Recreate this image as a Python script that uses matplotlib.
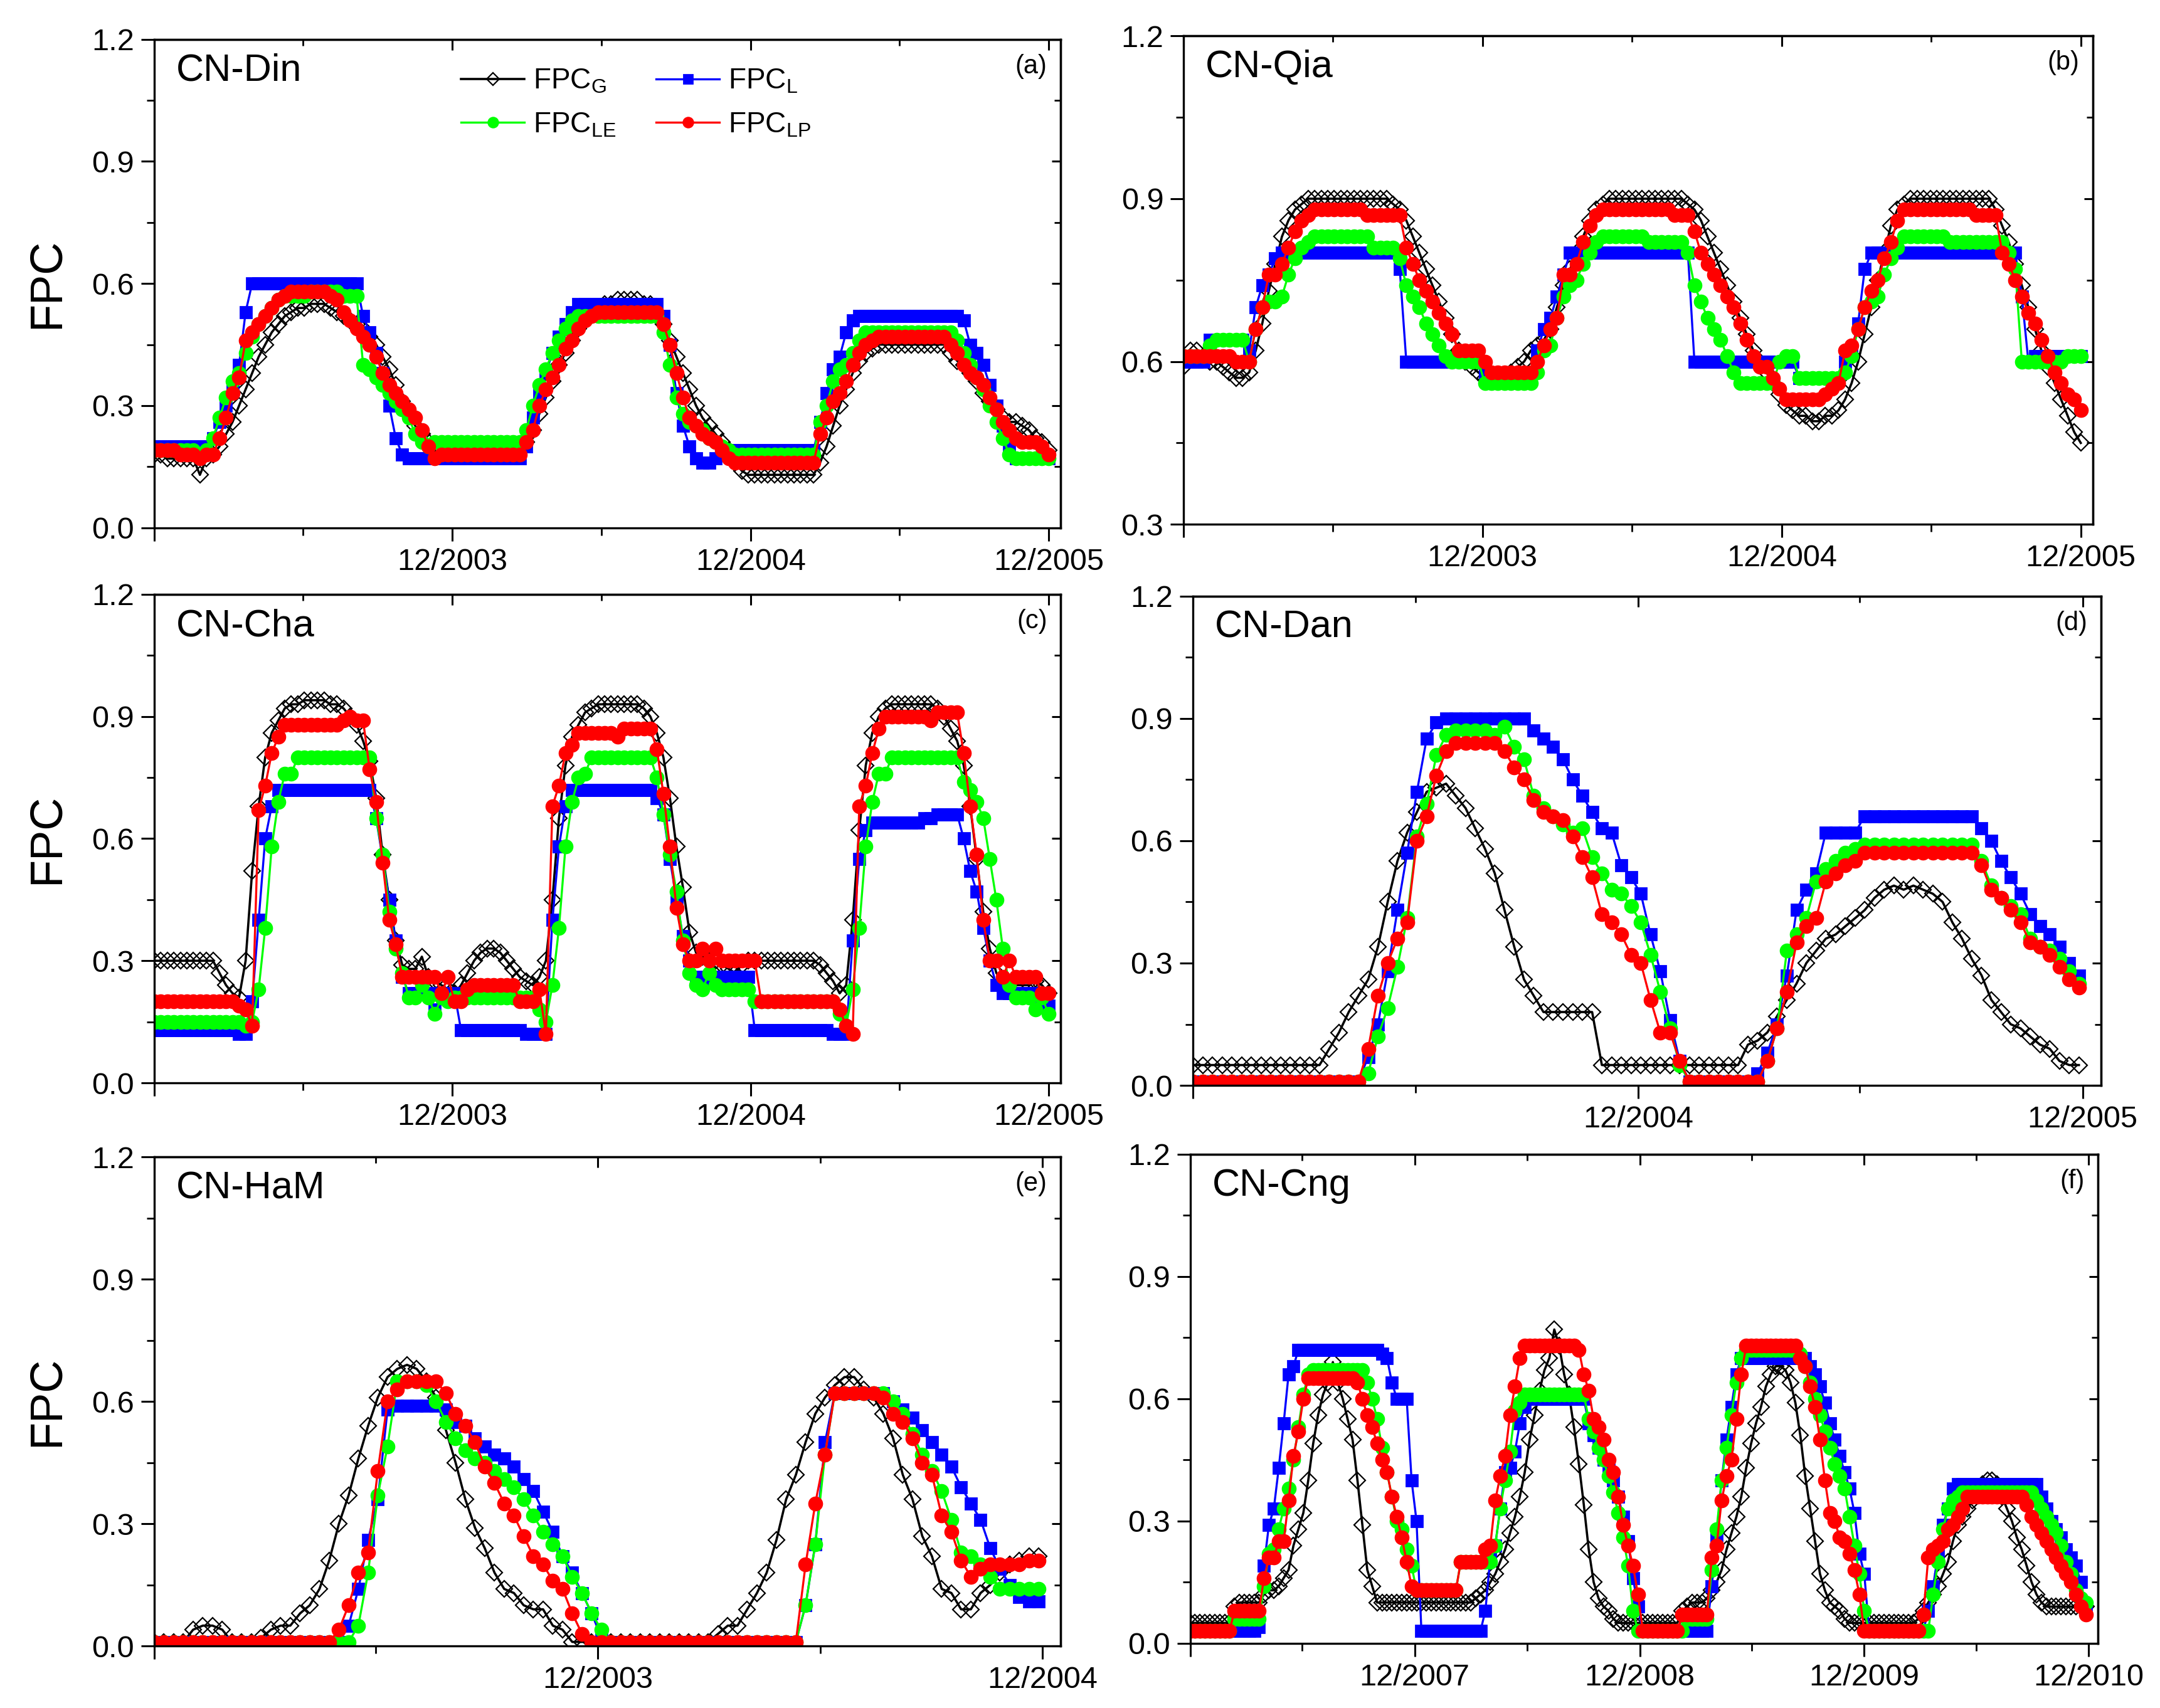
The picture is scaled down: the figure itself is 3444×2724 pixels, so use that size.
import numpy as np
import matplotlib
matplotlib.use('Agg')
import matplotlib.pyplot as plt
import matplotlib.dates as mdates

plt.rcParams.update({
    'font.family': ['Liberation Sans', 'DejaVu Sans'],
    'mathtext.default': 'regular',
    'axes.linewidth': 1.2,
    'xtick.major.width': 1.1,
    'ytick.major.width': 1.1,
    'xtick.minor.width': 1.0,
    'ytick.minor.width': 1.0,
})

# ── Data: FPC x 100, 8-day composites ──
DIN_START = '2002-12-01'
DIN_G = [18, 18, 17, 17, 17, 17, 17, 13, 17, 18,
         20, 23, 26, 30, 34, 38, 42, 45, 48, 50,
         52, 53, 54, 54, 55, 55, 55, 54, 53, 52,
         51, 50, 49, 47, 45, 42, 39, 35, 31, 28,
         25, 23, 21, 19, 18, 18, 18, 18, 18, 18,
         18, 18, 18, 18, 18, 19, 19, 21, 24, 28,
         32, 36, 40, 43, 46, 49, 51, 53, 54, 55,
         55, 56, 56, 56, 56, 55, 55, 53, 50, 46,
         42, 38, 34, 30, 27, 25, 23, 21, 19, 16,
         14, 13, 13, 13, 13, 13, 13, 13, 13, 13,
         13, 13, 16, 20, 25, 30, 34, 38, 41, 43,
         44, 45, 45, 45, 45, 45, 45, 45, 45, 45,
         45, 45, 43, 41, 40, 38, 36, 33, 31, 29,
         27, 26, 26, 25, 24, 22, 21, 19]
DIN_L = [20, 20, 20, 20, 20, 20, 20, 20, 20, 22,
         26, 30, 35, 40, 53, 60, 60, 60, 60, 60,
         60, 60, 60, 60, 60, 60, 60, 60, 60, 60,
         60, 60, 52, 48, 43, 38, 30, 22, 18, 17,
         17, 17, 17, 17, 17, 17, 17, 17, 17, 17,
         17, 17, 17, 17, 17, 17, 17, 20, 27, 33,
         38, 43, 47, 50, 53, 55, 55, 55, 55, 55,
         55, 55, 55, 55, 55, 55, 55, 55, 52, 45,
         33, 25, 20, 17, 16, 16, 17, 19, 19, 19,
         19, 19, 19, 19, 19, 19, 19, 19, 19, 19,
         19, 19, 26, 33, 39, 42, 48, 51, 52, 52,
         52, 52, 52, 52, 52, 52, 52, 52, 52, 52,
         52, 52, 52, 52, 51, 45, 43, 40, 35, 30,
         25, 20, 17, 17, 17, 17, 17, 17]
DIN_LE = [19, 19, 19, 19, 19, 19, 19, 18, 19, 22,
          27, 32, 36, 38, 43, 47, 50, 52, 54, 56,
          57, 57, 57, 57, 58, 58, 58, 58, 58, 57,
          57, 57, 40, 39, 37, 35, 33, 31, 29, 27,
          23, 21, 20, 21, 21, 21, 21, 21, 21, 21,
          21, 21, 21, 21, 21, 21, 21, 24, 30, 35,
          39, 43, 46, 49, 51, 52, 52, 52, 52, 52,
          52, 52, 52, 52, 52, 52, 52, 52, 48, 40,
          32, 28, 26, 25, 24, 22, 21, 20, 19, 18,
          18, 18, 18, 18, 18, 18, 18, 18, 18, 18,
          18, 18, 26, 30, 36, 39, 40, 43, 46, 48,
          48, 48, 48, 48, 48, 48, 48, 48, 48, 48,
          48, 48, 48, 46, 43, 40, 37, 34, 30, 26,
          22, 18, 17, 17, 17, 17, 17, 17]
DIN_LP = [19, 19, 19, 19, 18, 18, 18, 17, 18, 18,
          22, 27, 33, 37, 46, 48, 50, 52, 54, 56,
          57, 58, 58, 58, 58, 58, 58, 57, 56, 53,
          51, 49, 47, 45, 42, 38, 35, 33, 31, 29,
          27, 24, 20, 17, 18, 18, 18, 18, 18, 18,
          18, 18, 18, 18, 18, 18, 18, 21, 24, 30,
          34, 37, 40, 44, 46, 49, 51, 52, 53, 53,
          53, 53, 53, 53, 53, 53, 53, 53, 50, 45,
          38, 32, 27, 25, 23, 22, 21, 19, 17, 16,
          16, 16, 16, 16, 16, 16, 16, 16, 16, 16,
          16, 16, 23, 27, 31, 33, 36, 40, 43, 45,
          46, 47, 47, 47, 47, 47, 47, 47, 47, 47,
          47, 47, 45, 43, 40, 38, 37, 35, 32, 29,
          26, 24, 22, 21, 21, 21, 20, 18]

QIA_START = '2002-12-01'
QIA_G = [59, 62, 62, 61, 60, 60, 59, 58, 57, 57,
         58, 62, 67, 73, 78, 83, 86, 88, 89, 90,
         90, 90, 90, 90, 90, 90, 90, 90, 90, 90,
         90, 90, 89, 88, 86, 83, 80, 77, 74, 71,
         68, 65, 62, 60, 59, 58, 57, 57, 57, 57,
         58, 59, 60, 62, 63, 64, 66, 70, 74, 77,
         80, 83, 86, 88, 89, 90, 90, 90, 90, 90,
         90, 90, 90, 90, 90, 90, 90, 89, 88, 86,
         83, 80, 77, 74, 71, 68, 65, 62, 60, 58,
         56, 54, 52, 51, 50, 50, 49, 49, 50, 50,
         51, 53, 56, 60, 65, 70, 75, 80, 85, 88,
         89, 90, 90, 90, 90, 90, 90, 90, 90, 90,
         90, 90, 90, 90, 88, 85, 82, 78, 74, 70,
         66, 62, 59, 56, 53, 50, 47, 45]
QIA_L = [60, 60, 60, 60, 64, 64, 64, 64, 64, 64,
         62, 70, 74, 76, 79, 80, 80, 80, 80, 80,
         80, 80, 80, 80, 80, 80, 80, 80, 80, 80,
         80, 80, 80, 77, 60, 60, 60, 60, 60, 60,
         60, 60, 60, 60, 60, 60, 58, 58, 58, 58,
         58, 58, 58, 58, 62, 66, 68, 72, 76, 80,
         80, 80, 80, 80, 80, 80, 80, 80, 80, 80,
         80, 80, 80, 80, 80, 80, 80, 80, 60, 60,
         60, 60, 60, 60, 60, 60, 60, 60, 60, 60,
         60, 60, 60, 60, 57, 57, 57, 57, 57, 57,
         57, 60, 62, 67, 77, 80, 80, 80, 80, 80,
         80, 80, 80, 80, 80, 80, 80, 80, 80, 80,
         80, 80, 80, 80, 80, 80, 80, 80, 72, 60,
         61, 61, 61, 61, 61, 61, 61, 61]
QIA_LE = [61, 61, 61, 61, 63, 64, 64, 64, 64, 64,
          60, 66, 70, 71, 71, 72, 76, 79, 81, 82,
          83, 83, 83, 83, 83, 83, 83, 83, 83, 81,
          81, 81, 81, 79, 74, 72, 70, 67, 65, 63,
          61, 60, 60, 60, 60, 60, 56, 56, 56, 56,
          56, 56, 56, 56, 58, 62, 63, 68, 72, 74,
          75, 78, 80, 82, 83, 83, 83, 83, 83, 83,
          83, 82, 82, 82, 82, 82, 82, 80, 74, 71,
          68, 66, 64, 61, 58, 56, 56, 56, 56, 56,
          56, 60, 61, 61, 57, 57, 57, 57, 57, 57,
          57, 58, 61, 66, 70, 71, 72, 76, 79, 81,
          83, 83, 83, 83, 83, 83, 83, 82, 82, 82,
          82, 82, 82, 82, 82, 82, 80, 77, 60, 60,
          60, 60, 60, 60, 60, 61, 61, 61]
QIA_LP = [61, 61, 61, 61, 61, 61, 61, 61, 60, 60,
          60, 66, 70, 76, 76, 78, 81, 84, 86, 87,
          88, 88, 88, 88, 88, 88, 88, 88, 87, 87,
          87, 87, 87, 87, 81, 78, 75, 73, 71, 69,
          67, 65, 62, 62, 62, 62, 60, 58, 58, 58,
          58, 58, 58, 58, 60, 63, 66, 68, 76, 76,
          78, 82, 85, 87, 88, 88, 88, 88, 88, 88,
          88, 88, 88, 88, 88, 87, 87, 87, 84, 80,
          78, 76, 74, 72, 70, 67, 64, 61, 59, 59,
          57, 55, 53, 53, 53, 53, 53, 53, 54, 55,
          56, 62, 63, 66, 70, 73, 75, 79, 82, 86,
          88, 88, 88, 88, 88, 88, 88, 88, 88, 88,
          88, 87, 87, 87, 87, 80, 78, 75, 72, 69,
          67, 64, 61, 58, 56, 54, 53, 51]

CHA_START = '2002-12-01'
CHA_G = [30, 30, 30, 30, 30, 30, 30, 30, 30, 30,
         27, 24, 22, 21, 30, 52, 68, 80, 86, 89,
         92, 93, 93, 94, 94, 94, 94, 93, 93, 92,
         90, 88, 84, 79, 70, 56, 45, 35, 29, 28,
         28, 31, 26, 25, 24, 23, 22, 24, 27, 30,
         32, 33, 33, 32, 30, 28, 26, 25, 24, 26,
         30, 45, 65, 78, 85, 88, 91, 92, 93, 93,
         93, 93, 93, 93, 93, 92, 90, 86, 80, 70,
         58, 48, 37, 32, 31, 30, 30, 29, 28, 27,
         29, 30, 30, 30, 30, 30, 30, 30, 30, 30,
         30, 30, 29, 27, 25, 22, 24, 40, 62, 78,
         86, 90, 92, 93, 93, 93, 93, 93, 93, 93,
         92, 90, 87, 84, 78, 68, 55, 42, 33, 27,
         25, 24, 24, 24, 24, 25, 24, 22]
CHA_L = [13, 13, 13, 13, 13, 13, 13, 13, 13, 13,
         13, 13, 13, 12, 12, 20, 40, 60, 68, 72,
         72, 72, 72, 72, 72, 72, 72, 72, 72, 72,
         72, 72, 72, 72, 65, 55, 45, 35, 26, 22,
         22, 22, 22, 18, 22, 22, 22, 13, 13, 13,
         13, 13, 13, 13, 13, 13, 13, 12, 12, 12,
         12, 40, 58, 68, 72, 72, 72, 72, 72, 72,
         72, 72, 72, 72, 72, 72, 72, 70, 66, 55,
         45, 36, 30, 26, 25, 26, 26, 26, 26, 26,
         26, 26, 13, 13, 13, 13, 13, 13, 13, 13,
         13, 13, 13, 13, 12, 12, 12, 35, 55, 62,
         64, 64, 64, 64, 64, 64, 64, 64, 65, 65,
         66, 66, 66, 66, 60, 52, 47, 38, 30, 24,
         22, 22, 22, 22, 22, 22, 19, 19]
CHA_LE = [15, 15, 15, 15, 15, 15, 15, 15, 15, 15,
          15, 15, 15, 15, 14, 15, 23, 38, 58, 69,
          76, 76, 80, 80, 80, 80, 80, 80, 80, 80,
          80, 80, 80, 80, 65, 56, 42, 33, 27, 21,
          21, 24, 21, 17, 21, 20, 21, 21, 21, 21,
          21, 21, 21, 21, 21, 21, 21, 21, 21, 18,
          15, 24, 38, 58, 69, 75, 76, 80, 80, 80,
          80, 80, 80, 80, 80, 80, 80, 75, 66, 56,
          47, 35, 27, 24, 23, 27, 24, 23, 23, 23,
          23, 23, 20, 20, 20, 20, 20, 20, 20, 20,
          20, 20, 20, 20, 20, 17, 14, 23, 38, 58,
          69, 76, 76, 80, 80, 80, 80, 80, 80, 80,
          80, 80, 80, 80, 74, 72, 69, 65, 55, 45,
          33, 24, 21, 21, 21, 18, 21, 17]
CHA_LP = [20, 20, 20, 20, 20, 20, 20, 20, 20, 20,
          20, 20, 20, 19, 18, 14, 67, 73, 81, 85,
          88, 88, 88, 88, 88, 88, 88, 88, 88, 89,
          90, 89, 89, 77, 69, 54, 40, 34, 26, 26,
          26, 26, 26, 26, 22, 26, 20, 20, 23, 24,
          24, 24, 24, 24, 24, 24, 20, 20, 20, 23,
          12, 68, 73, 81, 83, 86, 86, 86, 86, 86,
          86, 85, 87, 87, 87, 87, 87, 82, 71, 58,
          43, 34, 30, 30, 33, 30, 33, 30, 30, 30,
          30, 30, 30, 20, 20, 20, 20, 20, 20, 20,
          20, 20, 20, 20, 20, 18, 14, 12, 68, 73,
          81, 87, 90, 90, 90, 90, 90, 90, 90, 89,
          91, 91, 91, 91, 81, 68, 56, 40, 30, 30,
          26, 30, 26, 26, 26, 26, 22, 22]

DAN_START = '2003-12-01'
DAN_G = [5, 5, 5, 5, 5, 5, 5, 5, 5, 5,
         5, 5, 5, 5, 9, 13, 18, 22, 26, 34,
         45, 55, 62, 67, 72, 73, 74, 71, 68, 63,
         58, 52, 43, 34, 26, 22, 18, 18, 18, 18,
         18, 18, 5, 5, 5, 5, 5, 5, 5, 5,
         5, 5, 5, 5, 5, 5, 5, 10, 11, 13,
         17, 21, 25, 30, 33, 36, 37, 39, 41, 43,
         46, 48, 49, 48, 49, 48, 47, 45, 40, 36,
         31, 27, 21, 18, 15, 14, 12, 10, 9, 6,
         5, 5]
DAN_L = [1, 1, 1, 1, 1, 1, 1, 1, 1, 1,
         1, 1, 1, 1, 1, 1, 1, 1, 7, 15,
         28, 43, 57, 72, 85, 89, 90, 90, 90, 90,
         90, 90, 90, 90, 90, 87, 85, 83, 80, 75,
         71, 67, 63, 62, 54, 51, 47, 37, 28, 16,
         6, 1, 1, 1, 1, 1, 1, 1, 3, 8,
         15, 27, 43, 48, 52, 62, 62, 62, 62, 66,
         66, 66, 66, 66, 66, 66, 66, 66, 66, 66,
         66, 63, 60, 55, 51, 47, 42, 39, 37, 34,
         30, 27]
DAN_LE = [1, 1, 1, 1, 1, 1, 1, 1, 1, 1,
          1, 1, 1, 1, 1, 1, 1, 1, 3, 12,
          19, 29, 41, 61, 69, 81, 86, 87, 87, 87,
          87, 86, 88, 83, 80, 71, 68, 66, 64, 62,
          63, 56, 52, 48, 47, 44, 40, 32, 23, 14,
          5, 1, 1, 1, 1, 1, 1, 1, 1, 6,
          14, 33, 37, 41, 50, 53, 55, 57, 58, 59,
          59, 59, 59, 59, 59, 59, 59, 59, 59, 59,
          59, 55, 49, 46, 44, 42, 36, 34, 33, 31,
          28, 25]
DAN_LP = [1, 1, 1, 1, 1, 1, 1, 1, 1, 1,
          1, 1, 1, 1, 1, 1, 1, 1, 9, 22,
          30, 36, 40, 60, 66, 76, 82, 84, 84, 84,
          84, 84, 82, 78, 75, 70, 67, 66, 65, 61,
          56, 51, 42, 40, 37, 32, 30, 21, 13, 13,
          6, 1, 1, 1, 1, 1, 1, 1, 1, 6,
          14, 23, 35, 39, 41, 50, 52, 54, 55, 57,
          57, 57, 57, 57, 57, 57, 57, 57, 57, 57,
          57, 54, 48, 46, 43, 40, 35, 34, 32, 29,
          26, 24]

HAM_START = '2002-12-01'
HAM_G = [1, 1, 1, 1, 4, 5, 5, 4, 1, 1,
         1, 2, 4, 5, 5, 8, 10, 14, 21, 30,
         37, 46, 54, 61, 66, 68, 69, 68, 65, 61,
         53, 45, 36, 29, 24, 18, 14, 13, 10, 9,
         9, 5, 4, 1, 1, 1, 1, 1, 1, 1,
         1, 1, 1, 1, 1, 1, 1, 1, 3, 5,
         5, 9, 13, 18, 26, 36, 42, 50, 57, 61,
         64, 66, 66, 63, 61, 57, 51, 42, 36, 27,
         22, 14, 13, 9, 9, 13, 15, 18, 20, 21,
         22, 22]
HAM_L = [1, 1, 1, 1, 1, 1, 1, 1, 1, 1,
         1, 1, 1, 1, 1, 1, 1, 1, 1, 1,
         5, 14, 26, 36, 58, 59, 59, 59, 59, 59,
         58, 55, 54, 51, 49, 47, 46, 44, 41, 38,
         33, 28, 22, 18, 13, 8, 2, 1, 1, 1,
         1, 1, 1, 1, 1, 1, 1, 1, 1, 1,
         1, 1, 1, 1, 1, 1, 1, 10, 25, 50,
         62, 62, 62, 62, 62, 62, 60, 58, 56, 53,
         50, 47, 44, 39, 35, 31, 24, 19, 15, 12,
         11, 11]
HAM_LE = [1, 1, 1, 1, 1, 1, 1, 1, 1, 1,
          1, 1, 1, 1, 1, 1, 1, 1, 1, 1,
          1, 5, 18, 37, 49, 65, 65, 65, 64, 60,
          55, 51, 48, 46, 45, 43, 41, 39, 36, 32,
          28, 25, 22, 17, 13, 8, 4, 1, 1, 1,
          1, 1, 1, 1, 1, 1, 1, 1, 1, 1,
          1, 1, 1, 1, 1, 1, 1, 10, 25, 47,
          62, 62, 62, 62, 62, 62, 60, 57, 52, 47,
          43, 38, 31, 23, 22, 20, 17, 14, 14, 14,
          14, 14]
HAM_LP = [1, 1, 1, 1, 1, 1, 1, 1, 1, 1,
          1, 1, 1, 1, 1, 1, 1, 1, 1, 4,
          10, 18, 23, 43, 60, 63, 65, 65, 65, 65,
          62, 57, 54, 50, 44, 40, 35, 32, 27, 22,
          20, 16, 14, 8, 3, 1, 1, 1, 1, 1,
          1, 1, 1, 1, 1, 1, 1, 1, 1, 1,
          1, 1, 1, 1, 1, 1, 1, 20, 35, 47,
          62, 62, 62, 62, 62, 61, 57, 55, 51, 45,
          42, 32, 28, 21, 17, 19, 20, 20, 20, 20,
          21, 21]

CNG_START = '2006-12-01'
CNG_G = [5, 5, 5, 5, 5, 5, 5, 5, 5, 9,
         10, 10, 10, 10, 10, 12, 13, 13, 14, 16,
         18, 24, 28, 32, 40, 49, 56, 61, 64, 69,
         64, 60, 55, 50, 40, 29, 18, 14, 10, 10,
         10, 10, 10, 10, 10, 10, 10, 10, 10, 10,
         10, 10, 10, 10, 10, 10, 10, 10, 11, 12,
         13, 15, 17, 20, 23, 27, 31, 36, 42, 50,
         56, 62, 67, 70, 77, 73, 66, 61, 53, 44,
         34, 23, 15, 11, 9, 8, 6, 5, 5, 5,
         5, 5, 5, 5, 5, 5, 5, 5, 5, 5,
         8, 9, 10, 10, 10, 11, 13, 15, 18, 23,
         27, 31, 36, 43, 49, 54, 58, 63, 66, 68,
         68, 67, 64, 59, 51, 41, 33, 25, 17, 13,
         10, 9, 8, 6, 5, 5, 5, 5, 5, 5,
         5, 5, 5, 5, 5, 5, 5, 5, 6, 8,
         10, 12, 14, 17, 20, 25, 29, 31, 33, 35,
         37, 39, 40, 40, 39, 36, 33, 30, 26, 23,
         19, 15, 12, 10, 9, 9, 9, 9, 9, 9,
         9, 9, 9]
CNG_L = [3, 3, 3, 3, 3, 3, 3, 3, 3, 3,
         3, 3, 3, 3, 4, 19, 29, 33, 43, 54,
         66, 68, 72, 72, 72, 72, 72, 72, 72, 72,
         72, 72, 72, 72, 72, 72, 72, 72, 72, 71,
         70, 64, 60, 60, 60, 40, 30, 3, 3, 3,
         3, 3, 3, 3, 3, 3, 3, 3, 3, 3,
         8, 21, 24, 33, 42, 43, 47, 54, 58, 60,
         60, 60, 60, 60, 60, 60, 60, 60, 60, 60,
         60, 54, 51, 48, 45, 43, 40, 36, 31, 25,
         16, 9, 3, 3, 3, 3, 3, 3, 3, 3,
         3, 3, 3, 3, 3, 3, 14, 26, 40, 50,
         58, 66, 70, 70, 70, 70, 70, 70, 70, 70,
         70, 70, 70, 70, 70, 70, 68, 66, 63, 59,
         54, 50, 46, 42, 38, 32, 22, 17, 3, 3,
         3, 3, 3, 3, 3, 3, 3, 3, 3, 3,
         8, 14, 22, 29, 33, 38, 39, 39, 39, 39,
         39, 39, 39, 39, 39, 39, 39, 39, 39, 39,
         39, 39, 39, 36, 33, 30, 28, 26, 23, 21,
         19, 15, 9]
CNG_LE = [3, 3, 3, 3, 3, 3, 3, 3, 3, 6,
          6, 6, 6, 6, 6, 14, 22, 23, 28, 33,
          38, 45, 53, 61, 66, 67, 67, 67, 67, 67,
          67, 67, 67, 67, 67, 67, 64, 60, 55, 48,
          42, 36, 30, 28, 23, 19, 13, 13, 13, 13,
          13, 13, 13, 13, 13, 20, 20, 20, 20, 20,
          20, 20, 24, 33, 40, 47, 57, 59, 61, 61,
          61, 61, 61, 61, 61, 61, 61, 61, 61, 61,
          61, 55, 52, 48, 45, 41, 37, 32, 26, 19,
          8, 3, 3, 3, 3, 3, 3, 3, 3, 3,
          3, 6, 6, 6, 6, 6, 18, 28, 40, 48,
          56, 64, 70, 72, 72, 72, 72, 72, 72, 72,
          72, 72, 72, 72, 71, 68, 64, 60, 56, 52,
          48, 44, 41, 38, 31, 24, 17, 8, 3, 3,
          3, 3, 3, 3, 3, 3, 3, 3, 3, 3,
          3, 12, 20, 28, 33, 35, 36, 37, 37, 37,
          37, 37, 37, 37, 37, 37, 37, 37, 37, 37,
          37, 37, 35, 33, 31, 29, 27, 24, 20, 17,
          13, 11, 10]
CNG_LP = [3, 3, 3, 3, 3, 3, 3, 3, 3, 8,
          8, 8, 8, 8, 8, 16, 21, 21, 25, 25,
          35, 46, 52, 60, 65, 65, 65, 65, 65, 65,
          65, 65, 65, 65, 64, 60, 56, 53, 49, 45,
          42, 36, 31, 26, 20, 14, 13, 13, 13, 13,
          13, 13, 13, 13, 13, 20, 20, 20, 20, 20,
          23, 24, 35, 41, 46, 56, 63, 70, 73, 73,
          73, 73, 73, 73, 73, 73, 73, 73, 73, 72,
          66, 62, 55, 53, 50, 45, 42, 36, 29, 24,
          19, 12, 3, 3, 3, 3, 3, 3, 3, 3,
          7, 7, 7, 7, 7, 7, 21, 24, 35, 41,
          45, 55, 66, 73, 73, 73, 73, 73, 73, 73,
          73, 73, 73, 73, 70, 68, 63, 58, 50, 40,
          32, 30, 26, 25, 22, 18, 12, 3, 3, 3,
          3, 3, 3, 3, 3, 3, 3, 3, 3, 7,
          21, 23, 24, 25, 28, 29, 31, 33, 36, 36,
          36, 36, 36, 36, 36, 36, 36, 36, 36, 36,
          34, 31, 29, 27, 25, 23, 21, 19, 17, 15,
          12, 9, 7]

SITES = ['CN-Din', 'CN-Qia', 'CN-Cha', 'CN-Dan', 'CN-HaM', 'CN-Cng']
TAGS = ['(a)', '(b)', '(c)', '(d)', '(e)', '(f)']
LABELS = [r'FPC$_{G}$', r'FPC$_{L}$', r'FPC$_{LE}$', r'FPC$_{LP}$']

POS = [
    [0.0714, 0.691, 0.4197, 0.286],
    [0.5480, 0.693, 0.4210, 0.286],
    [0.0714, 0.366, 0.4197, 0.286],
    [0.5523, 0.3645, 0.4203, 0.2865],
    [0.0714, 0.0363, 0.4197, 0.2863],
    [0.5510, 0.0379, 0.4203, 0.2863],
]

STYLES = [
    dict(color='black', marker='D', ms=6.8, mfc='none', mec='black', mew=0.8, lw=1.3),
    dict(color='#0000ff', marker='s', ms=6.8, mec='#0000ff', lw=1.2),
    dict(color='#00ff00', marker='o', ms=7.5, mec='#00ff00', lw=1.2),
    dict(color='#ff0000', marker='o', ms=7.5, mec='#ff0000', lw=1.2),
]


def dates_for(start, vals):
    t0 = np.datetime64(start)
    d = t0 + np.arange(len(vals)) * np.timedelta64(8, 'D')
    return mdates.date2num(d.astype('datetime64[s]').astype(object))


def draw_panel(ax, start, series, site, tag, y0, years):
    handles = []
    for vals, st in zip(series, STYLES):
        x = dates_for(start, vals)
        h, = ax.plot(x, np.array(vals) / 100.0, **st)
        handles.append(h)

    majors = [mdates.datestr2num(f'{y}-12-01') for y in years]
    minors = [mdates.datestr2num(f'{y + 1}-06-01') for y in years[:-1]]
    ax.set_xlim(majors[0], majors[-1] + 15)
    ax.set_xticks(majors)
    ax.set_xticklabels([''] + [f'12/{y}' for y in years[1:]])
    ax.set_xticks(minors, minor=True)

    yt = np.arange(y0, 1.2001, 0.3)
    ax.set_ylim(y0, 1.2)
    ax.set_yticks(yt)
    ax.set_yticklabels([f'{v:.1f}' for v in yt])
    ax.set_yticks(yt[:-1] + 0.15, minor=True)

    ax.tick_params(which='both', direction='out', labelsize=17.5, pad=4)
    ax.tick_params(which='major', length=7.5)
    ax.tick_params(which='minor', length=4.2)

    # mirrored ticks pointing inward on top and right
    top = ax.secondary_xaxis('top')
    top.set_xticks(majors)
    top.set_xticklabels([])
    top.set_xticks(minors, minor=True)
    top.tick_params(which='both', direction='in')
    top.tick_params(which='major', length=6)
    top.tick_params(which='minor', length=3.5)
    right = ax.secondary_yaxis('right')
    right.set_yticks(yt)
    right.set_yticklabels([])
    right.set_yticks(yt[:-1] + 0.15, minor=True)
    right.tick_params(which='both', direction='in')
    right.tick_params(which='major', length=5)
    right.tick_params(which='minor', length=3.5)

    ax.text(0.024, 0.935, site, transform=ax.transAxes, fontsize=22,
            ha='left', va='center')
    ax.text(0.985, 0.945, tag, transform=ax.transAxes, fontsize=15,
            ha='right', va='center')
    return handles


fig = plt.figure(figsize=(17.22, 13.62), dpi=200)

panels = [
    (DIN_START, [DIN_G, DIN_L, DIN_LE, DIN_LP], 0.0, [2002, 2003, 2004, 2005]),
    (QIA_START, [QIA_G, QIA_L, QIA_LE, QIA_LP], 0.3, [2002, 2003, 2004, 2005]),
    (CHA_START, [CHA_G, CHA_L, CHA_LE, CHA_LP], 0.0, [2002, 2003, 2004, 2005]),
    (DAN_START, [DAN_G, DAN_L, DAN_LE, DAN_LP], 0.0, [2003, 2004, 2005]),
    (HAM_START, [HAM_G, HAM_L, HAM_LE, HAM_LP], 0.0, [2002, 2003, 2004]),
    (CNG_START, [CNG_G, CNG_L, CNG_LE, CNG_LP], 0.0, [2006, 2007, 2008, 2009, 2010]),
]

for k, (start, series, y0, years) in enumerate(panels):
    ax = fig.add_axes(POS[k])
    hs = draw_panel(ax, start, series, SITES[k], TAGS[k], y0, years)
    if k % 2 == 0:
        ax.text(-0.118, 0.5, 'FPC', transform=ax.transAxes, rotation=90,
                fontsize=26, ha='center', va='center')
    if k == 0:
        # column-wise fill: G, LE | L, LP
        order = [0, 2, 1, 3]
        ax.legend([hs[i] for i in order], [LABELS[i] for i in order],
                  ncol=2, loc='upper left', bbox_to_anchor=(0.31, 0.995),
                  frameon=False, fontsize=16.5, handlelength=2.2,
                  markerscale=0.75, columnspacing=1.4, handletextpad=0.3,
                  labelspacing=0.55)

fig.savefig('out.png', dpi=200)
